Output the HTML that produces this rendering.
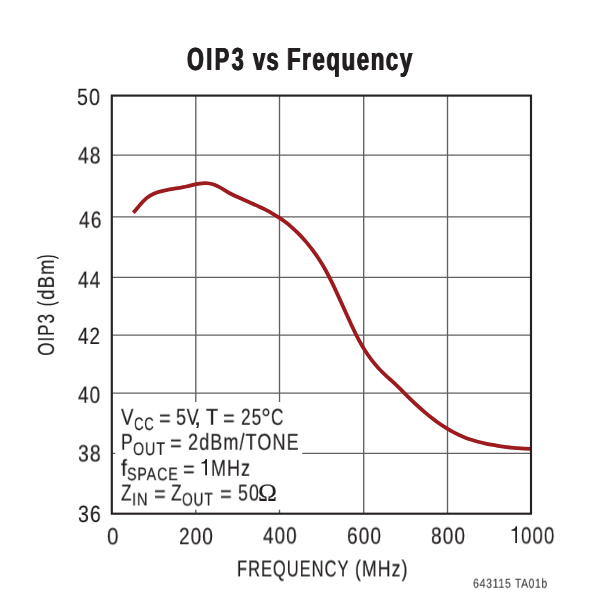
<!DOCTYPE html>
<html><head><meta charset="utf-8"><title>OIP3 vs Frequency</title>
<style>
html,body{margin:0;padding:0;background:#fff;}
body{width:600px;height:611px;position:relative;overflow:hidden;font-family:"Liberation Sans",sans-serif;color:#231f20;}
.t{position:absolute;white-space:nowrap;line-height:1;transform-origin:0 0;will-change:transform;text-rendering:geometricPrecision;}
.b{font-weight:bold;}
.s{font-family:"Liberation Serif",serif;}
</style></head><body>

<svg width="600" height="611" viewBox="0 0 600 611" style="position:absolute;left:0;top:0">
<line x1="195.80" y1="95.60" x2="195.80" y2="513.70" stroke="#606163" stroke-width="1.35"/>
<line x1="279.50" y1="95.60" x2="279.50" y2="513.70" stroke="#606163" stroke-width="1.35"/>
<line x1="363.70" y1="95.60" x2="363.70" y2="513.70" stroke="#606163" stroke-width="1.35"/>
<line x1="447.50" y1="95.60" x2="447.50" y2="513.70" stroke="#606163" stroke-width="1.35"/>
<line x1="111.80" y1="155.10" x2="531.00" y2="155.10" stroke="#606163" stroke-width="1.35"/>
<line x1="111.80" y1="216.90" x2="531.00" y2="216.90" stroke="#606163" stroke-width="1.35"/>
<line x1="111.80" y1="277.30" x2="531.00" y2="277.30" stroke="#606163" stroke-width="1.35"/>
<line x1="111.80" y1="335.10" x2="531.00" y2="335.10" stroke="#606163" stroke-width="1.35"/>
<line x1="111.80" y1="393.10" x2="531.00" y2="393.10" stroke="#606163" stroke-width="1.35"/>
<line x1="111.80" y1="453.30" x2="531.00" y2="453.30" stroke="#606163" stroke-width="1.35"/>
<rect x="115.2" y="402" width="187" height="107.7" fill="#fff"/>
<path d="M133.30,212.67 C135.51,210.23 137.72,207.51 139.93,204.94 C142.14,202.37 144.35,199.97 146.56,198.14 C148.77,196.31 150.98,195.00 153.19,193.99 C155.39,192.97 157.60,192.25 159.81,191.62 C162.02,190.99 164.23,190.48 166.44,190.03 C168.65,189.59 170.86,189.21 173.07,188.85 C175.28,188.49 177.49,188.15 179.70,187.78 C181.91,187.41 184.12,187.01 186.33,186.52 C188.54,186.04 190.75,185.46 192.96,184.92 C195.16,184.38 197.37,183.88 199.58,183.54 C201.79,183.19 204.00,183.01 206.21,183.11 C208.42,183.22 210.63,183.61 212.84,184.28 C215.05,184.95 217.26,185.91 219.47,187.12 C221.68,188.33 223.89,189.75 226.10,191.08 C228.31,192.42 230.52,193.62 232.73,194.73 C234.93,195.83 237.14,196.85 239.35,197.84 C241.56,198.83 243.77,199.79 245.98,200.75 C248.19,201.71 250.40,202.67 252.61,203.65 C254.82,204.62 257.03,205.62 259.24,206.66 C261.45,207.69 263.66,208.77 265.87,209.90 C268.08,211.04 270.29,212.24 272.50,213.52 C274.70,214.79 276.91,216.16 279.12,217.62 C281.33,219.08 283.54,220.65 285.75,222.34 C287.96,224.03 290.17,225.85 292.38,227.81 C294.59,229.77 296.80,231.87 299.01,234.13 C301.22,236.38 303.43,238.79 305.64,241.37 C307.85,243.95 310.06,246.69 312.26,249.62 C314.47,252.55 316.68,255.64 318.89,259.00 C321.10,262.36 323.31,265.99 325.52,269.97 C327.73,273.96 329.94,278.34 332.15,282.92 C334.36,287.50 336.57,292.26 338.78,297.09 C340.99,301.93 343.20,306.85 345.41,311.75 C347.62,316.65 349.83,321.54 352.03,326.26 C354.24,330.98 356.45,335.51 358.66,339.67 C360.87,343.82 363.08,347.61 365.29,351.02 C367.50,354.43 369.71,357.52 371.92,360.37 C374.13,363.22 376.34,365.83 378.55,368.22 C380.76,370.62 382.97,372.79 385.18,374.85 C387.39,376.91 389.60,378.88 391.81,380.90 C394.01,382.91 396.22,385.02 398.43,387.20 C400.64,389.37 402.85,391.60 405.06,393.81 C407.27,396.02 409.48,398.19 411.69,400.31 C413.90,402.43 416.11,404.50 418.32,406.51 C420.53,408.52 422.74,410.47 424.95,412.36 C427.16,414.24 429.37,416.05 431.57,417.79 C433.78,419.53 435.99,421.18 438.20,422.75 C440.41,424.33 442.62,425.81 444.83,427.21 C447.04,428.62 449.25,429.93 451.46,431.16 C453.67,432.38 455.88,433.52 458.09,434.56 C460.30,435.61 462.51,436.56 464.72,437.42 C466.93,438.29 469.14,439.07 471.34,439.79 C473.55,440.50 475.76,441.15 477.97,441.74 C480.18,442.33 482.39,442.87 484.60,443.36 C486.81,443.86 489.02,444.32 491.23,444.73 C493.44,445.15 495.65,445.54 497.86,445.89 C500.07,446.23 502.28,446.55 504.49,446.83 C506.70,447.12 508.91,447.37 511.12,447.60 C513.32,447.82 515.53,448.02 517.74,448.20 C519.95,448.37 522.16,448.52 524.37,448.65 C526.58,448.77 528.79,448.88 531.00,448.97" fill="none" stroke="#9b1b1f" stroke-width="3.8" stroke-linejoin="round"/>
<rect x="111.80" y="95.60" width="419.20" height="418.10" fill="none" stroke="#262223" stroke-width="2.15"/>
<path d="M517.00,526.30 L517.00,542.90 L515.25,542.90 L515.25,530.80 L511.50,530.80 L511.50,529.70 C513.50,529.50 515.15,528.40 515.75,526.30 Z" fill="#231f20"/>
<path d="M207.00,459.00 L207.00,475.30 L205.15,475.30 L205.15,463.50 L201.30,463.50 L201.30,462.40 C203.30,462.20 205.05,461.10 205.65,459.00 Z" fill="#231f20"/>
</svg>
<div class="t b" style="left:187.26px;top:43px;font-size:32.00px;transform:translateY(0.00px) scaleX(0.6767);-webkit-text-stroke:0.15px #231f20;letter-spacing:3.60px;text-shadow:0.75px 0 0 #231f20,-0.75px 0 0 #231f20;">OIP3</div>
<div class="t b" style="left:253.34px;top:43px;font-size:32.00px;transform:translateY(0.00px) scaleX(0.6865);-webkit-text-stroke:0.15px #231f20;letter-spacing:1.60px;text-shadow:0.75px 0 0 #231f20,-0.75px 0 0 #231f20;">vs</div>
<div class="t b" style="left:286.96px;top:43px;font-size:32.00px;transform:translateY(0.00px) scaleX(0.6946);-webkit-text-stroke:0.15px #231f20;letter-spacing:2.30px;text-shadow:0.75px 0 0 #231f20,-0.75px 0 0 #231f20;">Frequency</div>
<div class="t" style="left:77.47px;top:87px;font-size:23.60px;transform:translateY(0.00px) scaleX(0.8311);-webkit-text-stroke:0.18px #231f20;letter-spacing:1.41px;">50</div>
<div class="t" style="left:77.59px;top:145px;font-size:23.60px;transform:translateY(0.40px) scaleX(0.8114);-webkit-text-stroke:0.18px #231f20;letter-spacing:1.41px;">48</div>
<div class="t" style="left:78.59px;top:209px;font-size:23.60px;transform:translateY(0.70px) scaleX(0.8114);-webkit-text-stroke:0.18px #231f20;letter-spacing:1.41px;">46</div>
<div class="t" style="left:77.60px;top:269px;font-size:23.60px;transform:translateY(0.70px) scaleX(0.8038);-webkit-text-stroke:0.18px #231f20;letter-spacing:1.41px;">44</div>
<div class="t" style="left:78.30px;top:326px;font-size:23.60px;transform:translateY(0.00px) scaleX(0.7923);-webkit-text-stroke:0.18px #231f20;letter-spacing:1.41px;">42</div>
<div class="t" style="left:78.30px;top:384px;font-size:23.60px;transform:translateY(0.80px) scaleX(0.8000);-webkit-text-stroke:0.18px #231f20;letter-spacing:1.41px;">40</div>
<div class="t" style="left:78.39px;top:443px;font-size:23.60px;transform:translateY(0.40px) scaleX(0.8192);-webkit-text-stroke:0.18px #231f20;letter-spacing:1.41px;">38</div>
<div class="t" style="left:77.68px;top:504px;font-size:23.60px;transform:translateY(0.00px) scaleX(0.8231);-webkit-text-stroke:0.18px #231f20;letter-spacing:1.41px;">36</div>
<div class="t" style="left:106.65px;top:526px;font-size:23.60px;transform:translateY(0.30px) scaleX(0.8696);-webkit-text-stroke:0.18px #231f20;">0</div>
<div class="t" style="left:178.70px;top:526px;font-size:23.60px;transform:translateY(0.20px) scaleX(0.8025);-webkit-text-stroke:0.18px #231f20;letter-spacing:1.41px;">200</div>
<div class="t" style="left:262.60px;top:525px;font-size:23.60px;transform:translateY(0.50px) scaleX(0.7975);-webkit-text-stroke:0.18px #231f20;letter-spacing:1.41px;">400</div>
<div class="t" style="left:347.19px;top:525px;font-size:23.60px;transform:translateY(0.70px) scaleX(0.8075);-webkit-text-stroke:0.18px #231f20;letter-spacing:1.41px;">600</div>
<div class="t" style="left:431.19px;top:525px;font-size:23.60px;transform:translateY(0.70px) scaleX(0.8075);-webkit-text-stroke:0.18px #231f20;letter-spacing:1.41px;">800</div>
<div class="t" style="left:520.91px;top:525px;font-size:23.60px;transform:translateY(0.50px) scaleX(0.7901);-webkit-text-stroke:0.18px #231f20;letter-spacing:1.41px;">000</div>
<div class="t" style="left:237.44px;top:557px;font-size:23.00px;transform:translateY(0.40px) scaleX(0.7178);-webkit-text-stroke:0.18px #231f20;letter-spacing:1.37px;">FREQUENCY</div>
<div class="t" style="left:355.34px;top:557px;font-size:23.00px;transform:translateY(0.40px) scaleX(0.7695);-webkit-text-stroke:0.18px #231f20;letter-spacing:1.37px;">(MHz)</div>
<div class="t" style="left:121.30px;top:405px;font-size:23.00px;transform:translateY(0.70px) scaleX(0.8131);-webkit-text-stroke:0.18px #231f20;">V</div>
<div class="t" style="left:133.65px;top:414px;font-size:18.00px;transform:translateY(0.90px) scaleX(0.7301);-webkit-text-stroke:0.18px #231f20;letter-spacing:1.07px;">CC</div>
<div class="t" style="left:158.83px;top:406px;font-size:23.00px;transform:translateY(0.70px) scaleX(0.8696);-webkit-text-stroke:0.18px #231f20;">=</div>
<div class="t" style="left:176.41px;top:405px;font-size:23.00px;transform:translateY(0.70px) scaleX(0.7857);-webkit-text-stroke:0.18px #231f20;letter-spacing:0.60px;">5V</div>
<div class="t" style="left:194.16px;top:405px;font-size:23.00px;transform:translateY(0.70px) scaleX(1.1200);-webkit-text-stroke:0.18px #231f20;">,</div>
<div class="t" style="left:205.87px;top:405px;font-size:23.00px;transform:translateY(0.70px) scaleX(0.8615);-webkit-text-stroke:0.18px #231f20;">T</div>
<div class="t" style="left:223.33px;top:406px;font-size:23.00px;transform:translateY(0.70px) scaleX(0.8696);-webkit-text-stroke:0.18px #231f20;">=</div>
<div class="t" style="left:240.55px;top:405px;font-size:23.00px;transform:translateY(0.70px) scaleX(0.7480);-webkit-text-stroke:0.18px #231f20;letter-spacing:1.37px;">25</div>
<div class="t" style="left:261.29px;top:405px;font-size:28.06px;transform:translateY(0.10px) scaleX(0.8750);-webkit-text-stroke:0.10px #231f20;">°</div>
<div class="t" style="left:271.25px;top:405px;font-size:23.00px;transform:translateY(0.70px) scaleX(0.7458);-webkit-text-stroke:0.18px #231f20;">C</div>
<div class="t" style="left:121.17px;top:430px;font-size:23.00px;transform:translateY(0.70px) scaleX(0.7600);-webkit-text-stroke:0.18px #231f20;">P</div>
<div class="t" style="left:133.10px;top:439px;font-size:18.00px;transform:translateY(0.90px) scaleX(0.7949);-webkit-text-stroke:0.18px #231f20;letter-spacing:1.07px;">OUT</div>
<div class="t" style="left:170.43px;top:431px;font-size:23.00px;transform:translateY(0.70px) scaleX(0.8696);-webkit-text-stroke:0.18px #231f20;">=</div>
<div class="t" style="left:187.51px;top:430px;font-size:23.00px;transform:translateY(0.70px) scaleX(0.7856);-webkit-text-stroke:0.18px #231f20;letter-spacing:1.37px;">2dBm/TONE</div>
<div class="t" style="left:121.07px;top:456px;font-size:23.00px;transform:translateY(0.80px) scaleX(0.9120);-webkit-text-stroke:0.18px #231f20;">f</div>
<div class="t" style="left:127.41px;top:465px;font-size:18.00px;transform:translateY(0.20px) scaleX(0.7920);-webkit-text-stroke:0.18px #231f20;letter-spacing:1.07px;">SPACE</div>
<div class="t" style="left:183.33px;top:457px;font-size:23.00px;transform:translateY(0.80px) scaleX(0.8696);-webkit-text-stroke:0.18px #231f20;">=</div>
<div class="t" style="left:211.43px;top:456px;font-size:23.00px;transform:translateY(0.80px) scaleX(0.7810);-webkit-text-stroke:0.18px #231f20;letter-spacing:1.37px;">MHz</div>
<div class="t" style="left:120.74px;top:481px;font-size:23.00px;transform:translateY(0.50px) scaleX(0.7451);-webkit-text-stroke:0.18px #231f20;">Z</div>
<div class="t" style="left:131.77px;top:490px;font-size:18.00px;transform:translateY(0.50px) scaleX(0.8185);-webkit-text-stroke:0.18px #231f20;letter-spacing:1.07px;">IN</div>
<div class="t" style="left:153.83px;top:482px;font-size:23.00px;transform:translateY(0.50px) scaleX(0.8696);-webkit-text-stroke:0.18px #231f20;">=</div>
<div class="t" style="left:171.14px;top:481px;font-size:23.00px;transform:translateY(0.50px) scaleX(0.7529);-webkit-text-stroke:0.18px #231f20;">Z</div>
<div class="t" style="left:181.93px;top:490px;font-size:18.00px;transform:translateY(0.50px) scaleX(0.7641);-webkit-text-stroke:0.18px #231f20;letter-spacing:1.07px;">OUT</div>
<div class="t" style="left:220.43px;top:482px;font-size:23.00px;transform:translateY(0.50px) scaleX(0.8696);-webkit-text-stroke:0.18px #231f20;">=</div>
<div class="t" style="left:237.72px;top:481px;font-size:23.00px;transform:translateY(0.50px) scaleX(0.7725);-webkit-text-stroke:0.18px #231f20;letter-spacing:1.37px;">50</div>
<div class="t s" style="left:257.92px;top:480px;font-size:25.00px;transform:translateY(0.50px) scaleX(1.0215);-webkit-text-stroke:0.18px #231f20;">Ω</div>
<div class="t" style="left:473.29px;top:576px;font-size:13.00px;transform:translateY(0.70px) scaleX(0.8177);color:#3b3b3d;-webkit-text-stroke:0.10px #3b3b3d;letter-spacing:0.77px;">643115</div>
<div class="t" style="left:515.00px;top:576px;font-size:13.00px;transform:translateY(0.70px) scaleX(0.7925);color:#3b3b3d;-webkit-text-stroke:0.10px #3b3b3d;letter-spacing:0.77px;">TA01b</div>
<div class="t" style="left:0;top:0;font-size:23.00px;transform:translate(34.90px,355.74px) rotate(-90deg) scaleX(0.7379);-webkit-text-stroke:0.18px #231f20;letter-spacing:1.40px;">OIP3</div>
<div class="t" style="left:0;top:0;font-size:23.00px;transform:translate(34.90px,306.22px) rotate(-90deg) scaleX(0.6560);-webkit-text-stroke:0.18px #231f20;">(</div>
<div class="t" style="left:0;top:0;font-size:23.00px;transform:translate(34.90px,299.80px) rotate(-90deg) scaleX(0.8021);-webkit-text-stroke:0.18px #231f20;letter-spacing:1.40px;">dBm</div>
<div class="t" style="left:0;top:0;font-size:23.00px;transform:translate(34.90px,259.20px) rotate(-90deg) scaleX(0.6080);-webkit-text-stroke:0.18px #231f20;">)</div>
</body></html>
